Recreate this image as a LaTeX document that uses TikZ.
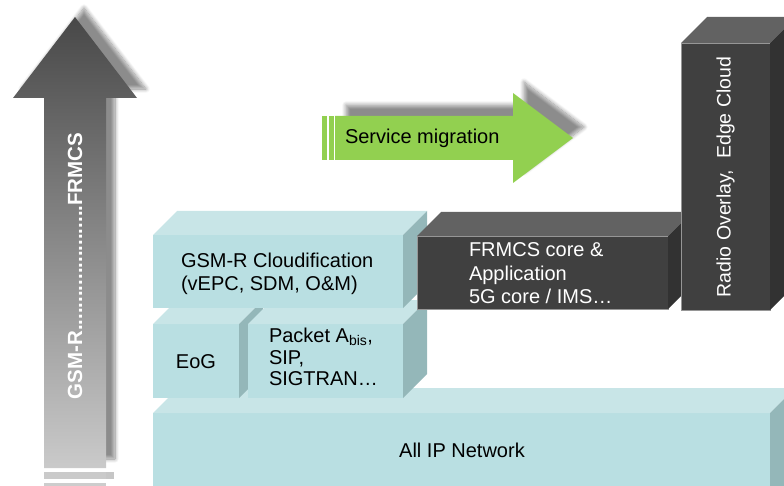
\documentclass[tikz,border=0pt]{standalone}
\usepackage{fontspec}
\setmainfont{Liberation Sans}
\usetikzlibrary{calc,shadows.blur}

\definecolor{tealfront}{RGB}{185,223,226}
\definecolor{tealtop}{RGB}{200,229,231}
\definecolor{tealside}{RGB}{148,183,185}
\definecolor{darkfront}{RGB}{64,64,64}
\definecolor{darktop}{RGB}{98,98,98}
\definecolor{darkside}{RGB}{50,50,50}
\definecolor{darkedge}{RGB}{150,150,150}
\definecolor{migrgreen}{RGB}{146,208,80}
\definecolor{arrowtop}{RGB}{72,72,72}
\definecolor{arrowbottom}{RGB}{202,202,202}

% top and right faces of a box whose front face is the node #1
\newcommand\cubesides[4]{%
  \fill[#3] (#1.north west) -- ++(#2,-#2) -- ($(#1.north east)+(#2,-#2)$) -- (#1.north east) -- cycle;
  \fill[#4] (#1.north east) -- ++(#2,-#2) -- ($(#1.south east)+(#2,-#2)$) -- (#1.south east) -- cycle;
}

\tikzset{
  front/.style={fill=#1, inner sep=0pt, outer sep=0pt, anchor=north west},
  darkfrontface/.style={front=darkfront, draw=darkedge, line width=0.3pt},
  lbl/.style={inner sep=0pt, outer sep=0pt, font=\fontsize{20}{23}\selectfont},
  softshadow/.style={blur shadow={shadow xshift=#1, shadow yshift=#1,
      shadow opacity=45, shadow blur radius=4pt, shadow blur steps=10}},
}

\begin{document}
\begin{tikzpicture}[x=1pt,y=-1pt]
\useasboundingbox (0,0) rectangle (784,486);
\clip (0,0) rectangle (784,486);

% ---- rising arrow: GSM-R to FRMCS ----
\path[softshadow=9pt] (44,468) -- (44,98) -- (13,98) -- (75,17) -- (137,98) -- (106,98) -- (106,468) -- cycle;
\shade[top color=arrowtop, bottom color=arrowbottom]
  (44,468) -- (44,98) -- (13,98) -- (75,17) -- (137,98) -- (106,98) -- (106,468) -- cycle;
\fill[gray!45] (106,472) rectangle (114,479);
\fill[arrowbottom] (44,472) rectangle (106,479);
\fill[arrowbottom!95!white] (44,483) rectangle (106,490);
\node[lbl, text=white, rotate=90, font=\fontsize{20.5}{23}\selectfont\bfseries] (evol) at (75,266)
  {GSM-R......................FRMCS};

% ---- service migration arrow ----
\path[softshadow=11pt] (335,116) -- (513,116) -- (513,93) -- (573,138) -- (513,183) -- (513,160) -- (335,160) -- cycle;
\fill[migrgreen] (335,116) -- (513,116) -- (513,93) -- (573,138) -- (513,183) -- (513,160) -- (335,160) -- cycle;
\fill[migrgreen] (322,116) rectangle (327,160);
\fill[migrgreen] (328.5,116) rectangle (333.5,160);
\node[lbl, anchor=west] (migr) at (345,138) {Service migration};

% ---- bottom layer ----
\node[front=tealfront, minimum width=617pt, minimum height=90pt] (allip) at (153,413) {};
\cubesides{allip}{25}{tealtop}{tealside}
\node[lbl] (alliptxt) at (462,450) {All IP Network};

% ---- middle layer ----
\node[front=tealfront, minimum width=86pt, minimum height=74pt] (eog) at (153,324) {};
\cubesides{eog}{24}{tealtop}{tealside}
\node[lbl] (eogtxt) at (196,362) {EoG};

\node[front=tealfront, minimum width=155pt, minimum height=74pt] (pkt) at (248,324) {};
\cubesides{pkt}{24}{tealtop}{tealside}
\node[lbl, anchor=west, align=left, font=\fontsize{20}{21.5}\selectfont] (pkttxt) at (269,357)
  {Packet A\textsubscript{bis},\\SIP,\\SIGTRAN…};

% ---- upper layer ----
\node[front=tealfront, minimum width=250pt, minimum height=73pt] (cloud) at (153,235) {};
\cubesides{cloud}{24}{tealtop}{tealside}
\node[lbl, anchor=west, align=left] (cloudtxt) at (181,273.5)
  {GSM-R Cloudification\\(vEPC, SDM, O\&M)};

\node[darkfrontface, minimum width=251pt, minimum height=73pt] (core) at (417,236) {};
\cubesides{core}{24}{darktop}{darkside}
\node[lbl, text=white, anchor=west, align=left, font=\fontsize{20}{23.5}\selectfont] (coretxt) at (469,273.5)
  {FRMCS core \&\\Application\\5G core / IMS…};

\node[darkfrontface, minimum width=89pt, minimum height=267pt] (radio) at (681,43) {};
\cubesides{radio}{26}{darktop}{darkside}
\node[lbl, text=white, rotate=90, font=\fontsize{19.5}{23}\selectfont] (radiotxt) at (725.5,177)
  {Radio Overlay,\ \ Edge Cloud};
\end{tikzpicture}
\end{document}
